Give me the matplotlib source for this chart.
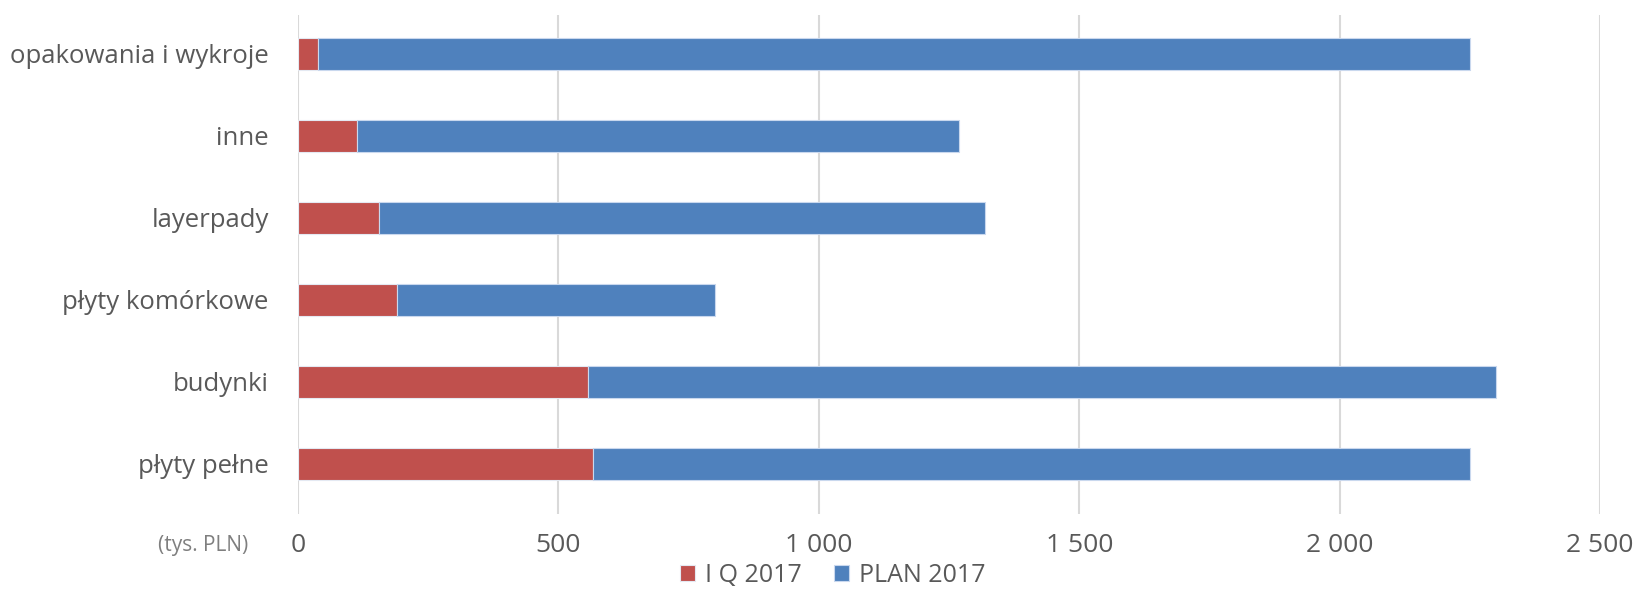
import matplotlib.pyplot as plt
import numpy as np

plt.rcParams['font.family'] = ['Open Sans', 'DejaVu Sans']

# Categories (bottom to top) and stacked segment values (tys. PLN)
categories = ['płyty pełne', 'budynki', 'płyty komórkowe', 'layerpady', 'inne', 'opakowania i wykroje']
iq_2017 = [567, 556, 190, 156, 114, 39]
plan_2017 = [1683, 1744, 610, 1164, 1156, 2211]

xticks = [0, 500, 1000, 1500, 2000, 2500]
xticklabels = ['0', '500', '1 000', '1 500', '2 000', '2 500']

red = '#C0504D'
blue = '#4F81BD'
text_color = '#595959'
grid_color = '#D9D9D9'

fig = plt.figure(figsize=(16.35, 6.14), dpi=100)
ax = fig.add_axes([298 / 1635, 1 - 514 / 614, (1600 - 298) / 1635, (514 - 14.6) / 614])

y = np.arange(len(categories))
h = 0.40
ax.barh(y, iq_2017, h, color=red, edgecolor='#E4E9F2', linewidth=0.8, label='I Q 2017', zorder=3)
ax.barh(y, plan_2017, h, left=iq_2017, color=blue, edgecolor='#C9D8EE', linewidth=0.8,
        label='PLAN 2017', zorder=3)

ax.set_xlim(0, 2500)
ax.set_ylim(-0.61, 5.48)
ax.set_xticks(xticks)
ax.set_xticklabels(xticklabels, fontsize=19, color=text_color)
ax.set_yticks(y)
ax.set_yticklabels(categories, fontsize=18.5, color=text_color)
ax.tick_params(axis='both', length=0)
ax.tick_params(axis='y', pad=21)
ax.tick_params(axis='x', pad=13.5)

ax.grid(axis='x', color=grid_color, linewidth=1.5, zorder=0)
for s in ax.spines.values():
    s.set_visible(False)

fig.text(248 / 1635, 1 - 546 / 614, '(tys. PLN)', fontsize=15, color='#7F7F7F', ha='right', va='center')

fig.legend(loc='center', bbox_to_anchor=(833 / 1635, 1 - 575 / 614), ncol=2, frameon=False,
           fontsize=18, labelcolor=text_color, handlelength=0.6, handleheight=0.6,
           handletextpad=0.4, columnspacing=1.3)

plt.savefig('out.png', dpi=100)
